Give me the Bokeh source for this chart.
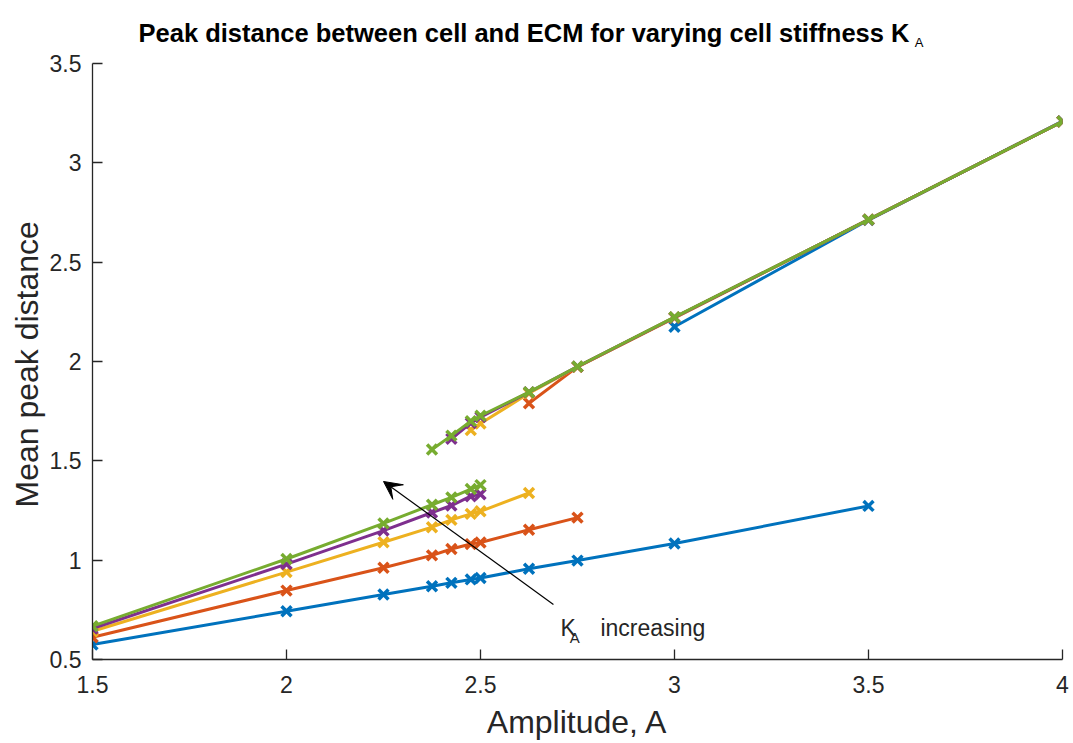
from bokeh.plotting import figure
from bokeh.models import Range1d, FixedTicker, Label, Arrow, VeeHead, Title
from bokeh.embed import file_html
from bokeh.resources import INLINE

# ---- data ----
blue_lo_x = [1.5, 2, 2.25, 2.375, 2.425, 2.475, 2.5, 2.625, 2.75, 3, 3.5]
blue_lo_y = [0.575, 0.743, 0.827, 0.869, 0.886, 0.903, 0.910, 0.957, 0.998, 1.084, 1.273]
blue_hi_x = [3, 3.5, 4]
blue_hi_y = [2.175, 2.712, 3.21]

red_lo_x = [1.5, 2, 2.25, 2.375, 2.425, 2.475, 2.5, 2.625, 2.75]
red_lo_y = [0.612, 0.847, 0.962, 1.024, 1.056, 1.081, 1.089, 1.153, 1.214]
red_hi_x = [2.625, 2.75, 3, 3.5, 4]
red_hi_y = [1.79, 1.973, 2.22, 2.714, 3.208]

yel_lo_x = [1.5, 2, 2.25, 2.375, 2.425, 2.475, 2.5, 2.625]
yel_lo_y = [0.642, 0.94, 1.09, 1.166, 1.203, 1.233, 1.246, 1.338]
yel_hi_x = [2.475, 2.5, 2.625, 2.75, 3, 3.5, 4]
yel_hi_y = [1.655, 1.688, 1.84, 1.973, 2.222, 2.714, 3.208]

pur_lo_x = [1.5, 2, 2.25, 2.375, 2.425, 2.475, 2.5]
pur_lo_y = [0.656, 0.98, 1.149, 1.24, 1.275, 1.322, 1.332]
pur_hi_x = [2.425, 2.475, 2.5, 2.625, 2.75, 3, 3.5, 4]
pur_hi_y = [1.611, 1.69, 1.72, 1.845, 1.974, 2.222, 2.714, 3.208]

grn_lo_x = [1.5, 2, 2.25, 2.375, 2.425, 2.475, 2.5]
grn_lo_y = [0.668, 1.006, 1.185, 1.279, 1.316, 1.358, 1.378]
grn_hi_x = [2.375, 2.425, 2.475, 2.5, 2.625, 2.75, 3, 3.5, 4]
grn_hi_y = [1.557, 1.627, 1.70, 1.727, 1.846, 1.975, 2.223, 2.714, 3.208]

x_ticks = [1.5, 2, 2.5, 3, 3.5, 4]
y_ticks = [0.5, 1, 1.5, 2, 2.5, 3, 3.5]

series = [
    ("#0072BD", blue_lo_x, blue_lo_y, blue_hi_x, blue_hi_y),
    ("#D95319", red_lo_x, red_lo_y, red_hi_x, red_hi_y),
    ("#EDB120", yel_lo_x, yel_lo_y, yel_hi_x, yel_hi_y),
    ("#7E2F8E", pur_lo_x, pur_lo_y, pur_hi_x, pur_hi_y),
    ("#77AC30", grn_lo_x, grn_lo_y, grn_hi_x, grn_hi_y),
]

TXT = "#262626"

# frame extends up into the title area; the y axis line is bounded to 0.5..3.5
FRAME_H = 649
Y_TOP = 0.5 + FRAME_H * 3.0 / 596

p = figure(width=1073, height=743, output_backend="svg", toolbar_location=None,
           x_range=Range1d(1.5, 4), y_range=Range1d(0.5, Y_TOP),
           frame_width=970, frame_height=FRAME_H,
           min_border_left=92, min_border_right=11, min_border_top=10, min_border_bottom=84)
p.outline_line_color = None
p.xgrid.visible = False
p.ygrid.visible = False
p.background_fill_color = "white"
p.border_fill_color = "white"

for ax, ticks in ((p.xaxis, x_ticks), (p.yaxis, y_ticks)):
    ax.ticker = FixedTicker(ticks=ticks)
    ax.minor_tick_line_color = None
    ax.major_tick_in = 10
    ax.major_tick_out = 0
    ax.axis_line_color = TXT
    ax.axis_line_width = 1.3
    ax.major_tick_line_color = TXT
    ax.major_tick_line_width = 1.3
    ax.major_label_text_font = "Liberation Sans"
    ax.major_label_text_font_size = "23px"
    ax.major_label_text_color = TXT
    ax.axis_label_text_font = "Liberation Sans"
    ax.axis_label_text_font_size = "32px"
    ax.axis_label_text_font_style = "normal"
    ax.axis_label_text_color = TXT

p.yaxis.bounds = (0.5, 3.5)
p.xaxis.axis_label = "Amplitude, A"
p.xaxis.major_label_standoff = 16
p.yaxis.major_label_standoff = 11
p.xaxis.axis_label_standoff = 8

# y axis title as a vertical Title so it can be centred on the bounded axis
p.add_layout(Title(text="Mean peak distance", align="left", offset=152,
                   text_font="Liberation Sans", text_font_size="32px",
                   text_font_style="normal", text_color=TXT, standoff=4), "left")

for color, lx, ly, hx, hy in series:
    for xs, ys in ((lx, ly), (hx, hy)):
        p.line(xs, ys, line_color=color, line_width=3)
        p.scatter(xs, ys, marker="x", size=14, line_color=color, line_width=3.5)

# arrow annotation
p.add_layout(Arrow(x_start=2.688, y_start=0.777, x_end=2.25, y_end=1.396,
                   line_color="black", line_width=1.2,
                   end=VeeHead(size=18, fill_color="black", line_color="black")))

p.add_layout(Label(x=2.706, y=0.661, text="K", text_font="Liberation Sans",
                   text_font_size="23px", text_color=TXT, text_baseline="alphabetic"))
p.add_layout(Label(x=2.73, y=0.611, text="A", text_font="Liberation Sans",
                   text_font_size="15px", text_color=TXT, text_baseline="alphabetic"))
p.add_layout(Label(x=2.809, y=0.661, text="increasing", text_font="Liberation Sans",
                   text_font_size="23px", text_color=TXT, text_baseline="alphabetic"))

# title
p.add_layout(Label(x=1.6186, y=3.656, text="Peak distance between cell and ECM for varying cell stiffness K",
                   text_font="Liberation Sans", text_font_style="bold",
                   text_font_size="25.5px", text_color="black", text_baseline="alphabetic"))
p.add_layout(Label(x=3.619, y=3.606, text="A", text_font="Liberation Sans",
                   text_font_size="13px", text_color="black", text_baseline="alphabetic"))

open("out.html", "w").write(file_html(p, INLINE))
